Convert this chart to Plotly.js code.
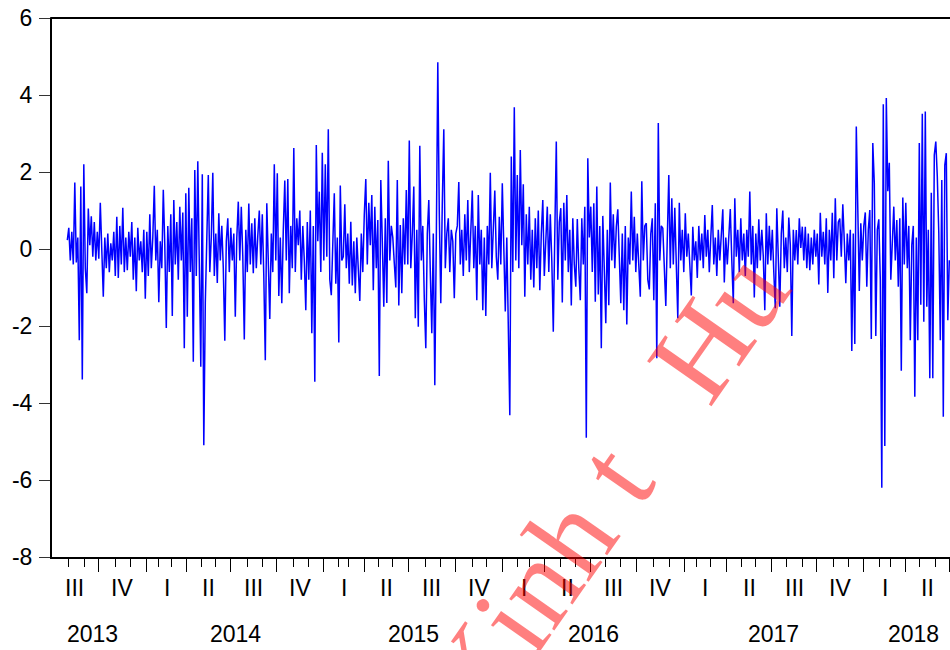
<!DOCTYPE html>
<html>
<head>
<meta charset="utf-8">
<script src="https://cdn.plot.ly/plotly-3.0.1.min.js"></script>
<style>html,body{margin:0;padding:0;background:#fff;}#chart{width:950px;height:650px;}</style>
</head>
<body>
<div id="chart"></div>
<script>
// Daily return series (one value per plotted observation step)
const returns = [
  0.23, 0.55, -0.3, 0.45, -0.4, 1.73, -0.35, 0.3, -2.37, 1.62, -3.39, 2.2, -0.5, -1.15, 1.05, 0.1, 0.85, -0.2, 0.7, -0.3,
  0.45, -0.25, 1.2, 0.2, -1.24, 0.3, -0.5, 0.4, -0.6, 0.15, -0.3, 0.45, -0.7, 0.84, -0.75, 0.6, -0.4, 1.07, -0.6, 0.3,
  -0.55, 0.45, -0.2, 0.7, -0.8, 0.3, -1.1, 0.55, -0.3, 0.2, -0.6, 0.5, -1.29, 0.45, -0.7, 0.9, -0.5, 0.3, 1.64, -0.3,
  0.5, -1.38, 0.2, -0.5, 1.54, 0.1, -2.05, 0.6, -0.6, 0.9, -1.74, 1.27, -0.4, 0.7, -0.8, 1.1, -0.3, 0.95, -2.58, 1.45,
  -1.76, 1.59, -0.6, 0.8, -2.93, 2.05, -0.7, 2.28, -0.3, -3.06, 1.94, -5.1, -1.4, 0.5, 1.92, -0.6, 0.3, 1.98, -0.7, 0.4,
  -0.88, 0.93, -0.3, 0.6, -0.5, -2.38, 0.2, 0.8, -0.6, 0.55, -0.3, 0.4, -1.76, 0.3, 1.23, -0.3, 1.1, -0.2, -2.35, 0.5,
  -0.6, 1.18, -0.4, 0.67, -0.63, 0.8, -0.5, 0.35, 1.0, -0.4, 0.9, -0.7, -2.89, 1.19, -0.3, -1.82, 0.4, -0.6, 2.2, -0.3,
  1.97, -1.22, 0.3, -1.41, 0.5, 1.78, -0.3, 1.82, -1.15, 0.6, -0.5, 2.62, -0.6, 0.8, 0.1, 1.0, -0.8, 0.6, -0.3, -1.59,
  0.7, -0.8, 1.0, -2.19, 0.6, -3.45, 2.7, 0.2, 1.49, -0.6, 2.5, -0.3, 2.2, -0.2, 3.11, -0.8, -1.2, 0.5, 1.45, -0.9,
  0.3, -2.43, 1.65, -0.3, -0.2, 1.16, -0.5, 0.4, -0.9, 0.71, -0.95, 0.2, -1.15, 0.3, -0.5, -1.35, 0.4, -0.6, 0.9, 1.82,
  -0.4, 1.2, 0.1, 1.4, -1.07, 1.1, -0.5, 0.75, -3.3, 1.79, 0.2, -1.5, 0.8, -1.4, 2.29, -0.3, 0.6, 0.3, -0.37, -1.0,
  1.79, -1.47, 0.62, -1.15, 0.8, -0.4, 1.53, -0.4, 2.82, -0.5, 0.4, 1.62, -1.8, 0.5, -2.02, 2.68, -0.3, 0.6, -1.3, -2.58,
  0.4, 1.27, -0.6, -2.19, 0.4, -3.54, 0.2, 4.85, 0.9, -1.41, 1.19, 3.11, -0.5, 0.4, 0.8, -0.6, 0.5, 0.2, -1.28, 0.4,
  0.6, 1.74, -0.4, 0.5, -0.7, 0.9, -0.3, 1.27, -0.6, 0.3, 1.52, -0.5, 0.6, -1.33, 1.4, -0.4, 0.5, -1.59, 0.3, -1.74,
  0.6, -0.4, 1.98, -0.5, 0.6, 1.52, -0.2, -0.8, 0.84, -0.4, 1.71, -0.5, -1.62, 0.3, -1.8, -4.32, 2.4, -0.6, 3.68, -0.3,
  1.92, -0.5, 2.57, 0.1, 1.68, -1.24, 0.9, -0.4, 1.1, -0.8, 0.5, -1.0, 0.8, -0.5, 1.0, -1.07, 0.4, 1.27, -0.7, 0.5,
  1.1, -0.6, 0.9, -0.3, -2.15, 0.4, 2.79, -0.8, 0.7, 1.06, -1.39, 1.2, -0.3, 1.4, -0.6, 0.5, -1.47, 0.8, -0.4, -0.98,
  0.78, -0.5, -1.33, 0.8, -0.4, 1.1, -4.9, 2.36, 0.3, 1.1, -0.6, 1.19, -1.37, 1.62, -1.18, 0.6, -2.58, 0.86, -0.3, -1.93,
  0.5, -1.46, 1.73, -0.3, 0.9, -0.5, 0.58, 1.03, -0.2, -1.41, 0.4, -1.59, 0.6, -1.96, 0.3, -0.4, 1.49, -0.3, 0.84, -0.6,
  0.4, -0.5, -1.24, 1.76, -0.3, 0.6, 0.67, -0.8, -1.05, 0.4, 0.8, -1.33, 1.19, -2.84, 3.27, -0.3, 0.6, 0.54, -0.6, -1.48,
  0.3, 1.92, -0.5, 1.32, -0.4, 1.07, -0.4, -1.8, 1.2, -0.3, 0.5, -0.6, 0.93, -0.2, 0.4, -0.5, -1.21, 0.58, -0.3, 0.2,
  -0.75, 0.6, -0.3, 0.4, -0.5, 0.88, -0.2, 0.5, -0.6, 0.3, 1.14, -0.4, 0.3, -0.7, 0.5, -0.3, 0.4, 1.03, -0.87, 0.3,
  -0.4, 0.5, 1.04, -0.3, -1.41, 1.32, -0.2, 0.5, -0.6, 0.8, -0.3, 0.4, -0.7, 0.5, -0.2, 1.49, -0.4, 0.6, -1.26, 0.4,
  -0.5, 0.77, -0.3, 0.5, -0.2, -1.59, 0.93, -0.4, 0.6, -0.3, 0.5, -0.6, -1.54, 1.06, -0.3, -1.5, 0.4, 1.0, -0.5, 0.3,
  -0.6, 0.82, 0.1, -2.26, 0.5, -0.3, 0.49, -0.4, 0.8, 0.03, 0.58, -0.3, 0.58, -0.5, 0.4, -0.55, 0.3, -0.4, 0.5, -0.2,
  0.4, -0.92, 0.94, -0.2, 0.45, -0.4, 0.8, -1.14, 0.5, -0.3, 0.94, -0.76, 1.32, -0.3, 0.7, 0.79, -0.2, 1.16, 0.2, -0.89,
  0.4, -0.3, 0.5, -2.65, 0.4, -2.47, 3.18, 1.46, -1.09, 0.67, -0.3, 0.6, 0.95, -0.98, 0.5, 1.01, -2.34, 2.75, 1.71, -2.26,
  0.5, 0.77, -0.8, -6.2, 3.76, -5.12, 3.92, 1.5, 2.24, -0.8, 0.4, 1.1, -0.3, 0.75, -0.98, 0.8, -3.16, 1.34, -0.4, 1.2,
  -0.5, 0.6, -2.37, 0.1, 0.6, -3.84, 0.3, -2.37, 2.75, -1.45, 3.51, -1.89, 3.57, -1.5, 0.5, -3.36, 1.46, -3.36, 2.44, 2.79,
  1.88, 0.4, -2.37, 1.79, -4.36, 2.18, 2.49, -1.85, -0.29
];

// Observation positions where each quarter starts (Jul 2013 ... Jul 2018)
const quarterTicks = [-11.7, 20.67, 52.67, 79.6, 108.67, 139.6, 171.13, 197.8, 227.33, 258.47, 290.27,
  318, 348.93, 379.6, 411.33, 439.6, 469.6, 499.6, 531.13, 558.93, 588];
// Observation positions where each other month starts
const monthTicks = [0.67, 11.33, 31.8, 41.8, 60.93, 69.6, 89.6, 98.93, 119.8, 129.8, 150.67, 160.67,
  180.67, 187.33, 207.33, 216.93, 239.13, 248.47, 270.27, 279.6, 300.27, 308, 328.47, 338.47,
  358.93, 368.47, 390.67, 401.33, 419.6, 428.47, 449.6, 459.13, 479.6, 490, 510.67, 520.67,
  541.33, 548.93, 568, 578.47];
const quarterLabels = ["III","IV","I","II","III","IV","I","II","III","IV","I","II","III","IV","I","II","III","IV","I","II"];
const yearLabels = ["2013","2014","2015","2016","2017","2018"];
const yearPos = [16.5, 111.8, 230.5, 350.5, 470.5, 563.8];
const yTicks = [-8, -6, -4, -2, 0, 2, 4, 6];
const yTickText = ["-8", "-6", "-4", "-2", "0", "2", "4", "6"];

const obs = returns.map((_, i) => i);
const quarterMid = quarterLabels.map((_, i) => (quarterTicks[i] + quarterTicks[i + 1]) / 2);

const axisFont = {family: "Liberation Sans, Arial, sans-serif", size: 23, color: "#000"};

const annotations = [];
quarterLabels.forEach((t, i) => annotations.push({
  text: t, x: quarterMid[i], xref: "x", y: 0, yref: "paper", yanchor: "middle", xanchor: "center",
  yshift: -31, showarrow: false, font: axisFont
}));
yearLabels.forEach((t, i) => annotations.push({
  text: t, x: yearPos[i], xref: "x", y: 0, yref: "paper", yanchor: "middle", xanchor: "center",
  yshift: -77, showarrow: false, font: axisFont
}));
annotations.push({
  text: "Kinh t\u00a0\u00a0\u00a0Hu", xref: "paper", yref: "paper", x: 0.617, y: 0.13,
  xanchor: "center", yanchor: "middle", textangle: -55, showarrow: false,
  font: {family: "Liberation Serif, Times New Roman, serif", size: 120, color: "rgba(255,0,0,0.5)"}
});

const trace = {
  x: obs, y: returns, type: "scatter", mode: "lines",
  line: {color: "#0000FF", width: 1.5}, hoverinfo: "skip"
};

const layout = {
  width: 950, height: 650,
  margin: {l: 52, r: 0, t: 18, b: 93, pad: 0},
  paper_bgcolor: "#fff", plot_bgcolor: "#fff",
  showlegend: false,
  xaxis: {
    range: [-10.2, 588.47], tickmode: "array", tickvals: quarterTicks,
    ticks: "outside", ticklen: 13, tickwidth: 1, tickcolor: "#000",
    showticklabels: false, showline: true, linecolor: "#000", linewidth: 2,
    showgrid: false, zeroline: false,
    minor: {tickmode: "array", tickvals: monthTicks, ticks: "outside", ticklen: 8, tickwidth: 1, tickcolor: "#000", showgrid: false}
  },
  yaxis: {
    range: [-8, 6], tickmode: "array", tickvals: yTicks, ticktext: yTickText,
    ticks: "outside", ticklen: 11, tickwidth: 1, tickcolor: "#333",
    showline: true, linecolor: "#000", linewidth: 2,
    showgrid: false, zeroline: false, tickfont: axisFont, ticklabelstandoff: 2
  },
  shapes: [{type: "line", xref: "paper", yref: "paper", x0: -0.002, x1: 1, y0: 1, y1: 1, line: {color: "#000", width: 2}}],
  annotations: annotations
};

Plotly.newPlot("chart", [trace], layout, {staticPlot: true, displayModeBar: false});
</script>
</body>
</html>
